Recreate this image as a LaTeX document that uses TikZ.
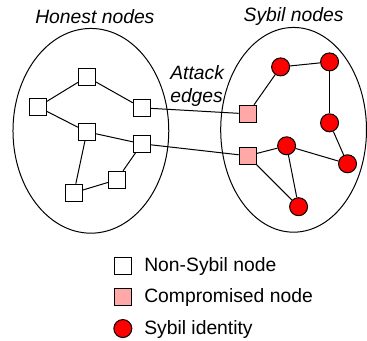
\documentclass[tikz,border=0pt]{standalone}
\usepackage{fontspec}
\setmainfont{Liberation Sans}

\tikzset{every picture/.style={line width=0.75pt}}
\tikzset{
  honest/.style={draw, fill=white, minimum size=12.75pt, inner sep=0pt},
  compro/.style={draw, fill={rgb,255:red,255;green,168;blue,168}, minimum size=12.75pt, inner sep=0pt},
  sybil/.style={draw, circle, fill={rgb,255:red,255;green,0;blue,0}, minimum size=13.5pt, inner sep=0pt},
  lbl/.style={font=\fontsize{14.5}{17}\selectfont, inner sep=0.75pt}
}

\begin{document}
\begin{tikzpicture}[x=0.75pt,y=0.75pt,yscale=-1,xscale=1]
\path (0,0) rectangle (367,341);

%Shape: Ellipse
\draw (91,131) ellipse [x radius=78, y radius=102.5];
%Shape: Ellipse
\draw (294,130) ellipse [x radius=73, y radius=102.5];

%Honest squares
\node [honest] (h1) at (38,107) {};
\node [honest] (h2) at (87,77) {};
\node [honest] (h3) at (142,108) {};
\node [honest] (h4) at (87,132) {};
\node [honest] (h5) at (142,144) {};
\node [honest] (h6) at (117,180) {};
\node [honest] (h7) at (74,193) {};

%Compromised squares
\node [compro] (c1) at (248,114) {};
\node [compro] (c2) at (248,156) {};

%Sybil circles
\node [sybil] (s1) at (281,67) {};
\node [sybil] (s2) at (330,62) {};
\node [sybil] (s3) at (330,123) {};
\node [sybil] (s4) at (287,146) {};
\node [sybil] (s5) at (348,164) {};
\node [sybil] (s6) at (299,207) {};

%Edges
\draw (h1) -- (h2) ;
\draw (h1) -- (h4) ;
\draw (h2) -- (h3) ;
\draw (h4) -- (h5) ;
\draw (h4) -- (h7) ;
\draw (h7) -- (h6) ;
\draw (h6) -- (h5) ;
\draw (h3) -- (c1) ;
\draw (h5) -- (c2) ;
\draw (c1) -- (s1) ;
\draw (s1) -- (s2) ;
\draw (s2) -- (s3) ;
\draw (s3) -- (s5) ;
\draw (s4) -- (s5) ;
\draw (c2) -- (s4) ;
\draw (s4) -- (s6) ;
\draw (c2) -- (s6) ;

% Text Node
\node [lbl] (thonest) at (95,17) {\itshape Honest nodes};
% Text Node
\node [lbl] (tsybil) at (294,17) {\itshape Sybil nodes};
% Text Node
\node [lbl, anchor=west, align=left] (tattack) at (169,86) {\itshape Attack\\\itshape edges};

%Legend
\node [honest] (k1) at (123,266) {};
\node [compro] (k2) at (123,297) {};
\node [sybil] (k3) at (123,329) {};
% Text Node
\node [lbl, anchor=west] (tk1) at (143,267) {Non-Sybil node};
% Text Node
\node [lbl, anchor=west] (tk2) at (143,298) {Compromised node};
% Text Node
\node [lbl, anchor=west] (tk3) at (143,330) {Sybil identity};

\end{tikzpicture}
\end{document}
